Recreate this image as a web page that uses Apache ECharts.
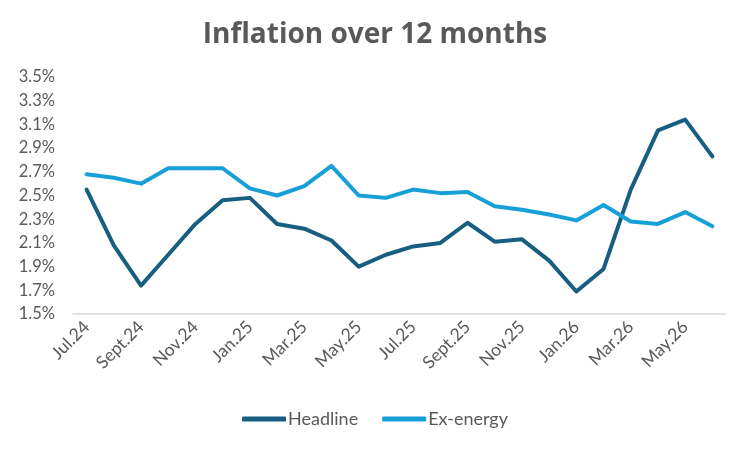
<!DOCTYPE html>
<html>
<head>
  <meta charset="utf-8">
  <title>Inflation over 12 months</title>
  <script src="https://cdn.jsdelivr.net/npm/echarts@6/dist/echarts.min.js"></script>
  <style>
    html, body { margin: 0; padding: 0; background: #fff; }
  </style>
</head>
<body>
  <div id="chart" style="width: 750px;height:450px;"></div>
  <script>
    const months = ['Jul.24', 'Aug.24', 'Sept.24', 'Oct.24', 'Nov.24', 'Dec.24',
                    'Jan.25', 'Feb.25', 'Mar.25', 'Apr.25', 'May.25', 'Jun.25',
                    'Jul.25', 'Aug.25', 'Sept.25', 'Oct.25', 'Nov.25', 'Dec.25',
                    'Jan.26', 'Feb.26', 'Mar.26', 'Apr.26', 'May.26', 'Jun.26'];

    const headline = [2.55, 2.08, 1.74, 2.00, 2.26, 2.46, 2.48, 2.26, 2.22, 2.12, 1.90, 2.00,
                      2.07, 2.10, 2.27, 2.11, 2.13, 1.95, 1.69, 1.88, 2.55, 3.05, 3.14, 2.83];

    const exEnergy = [2.68, 2.65, 2.60, 2.73, 2.73, 2.73, 2.56, 2.50, 2.58, 2.75, 2.50, 2.48,
                      2.55, 2.52, 2.53, 2.41, 2.38, 2.34, 2.29, 2.42, 2.28, 2.26, 2.36, 2.24];

    const grey = '#595959';
    const font = 'Lato, "Noto Sans", sans-serif';

    let myChart = echarts.init(document.getElementById('chart'));
    let option = {
        animation: false,
        title: {
            text: 'Inflation over 12 months',
            left: 'center',
            top: 16,
            textStyle: {
                color: grey,
                fontSize: 28,
                fontWeight: 'bold',
                fontFamily: '"Open Sans", Lato, sans-serif'
            }
        },
        legend: {
            bottom: 17,
            left: 'center',
            itemWidth: 44,
            itemHeight: 5,
            itemGap: 24,
            icon: 'roundRect',
            textStyle: {
                color: grey,
                fontSize: 18,
                fontFamily: font,
                padding: [0, 0, 0, -3]
            },
            data: ['Headline', 'Ex-energy']
        },
        grid: {
            left: 73,
            right: 24,
            top: 77,
            bottom: 136
        },
        xAxis: {
            type: 'category',
            boundaryGap: true,
            data: months,
            axisLine: { lineStyle: { color: '#d9d9d9', width: 1.5 } },
            axisTick: {
                interval: 1,
                length: 5,
                lineStyle: { color: '#d9d9d9', width: 1.5 }
            },
            axisLabel: {
                interval: 1,
                rotate: 45,
                color: grey,
                fontSize: 17.5,
                fontFamily: font,
                margin: 10
            }
        },
        yAxis: {
            type: 'value',
            min: 1.5,
            max: 3.5,
            interval: 0.2,
            splitLine: { show: false },
            axisLine: { show: false },
            axisTick: { show: false },
            axisLabel: {
                color: grey,
                fontSize: 16.5,
                fontFamily: font,
                margin: 18,
                formatter: v => v.toFixed(1) + '%'
            }
        },
        series: [
            {
                name: 'Headline',
                type: 'line',
                data: headline,
                symbol: 'none',
                color: '#175e81',
                lineStyle: { width: 4, cap: 'round', join: 'round' }
            },
            {
                name: 'Ex-energy',
                type: 'line',
                data: exEnergy,
                symbol: 'none',
                color: '#17a0d8',
                lineStyle: { width: 4, cap: 'round', join: 'round' }
            }
        ]
    };
    myChart.setOption(option);
  </script>
</body>
</html>
